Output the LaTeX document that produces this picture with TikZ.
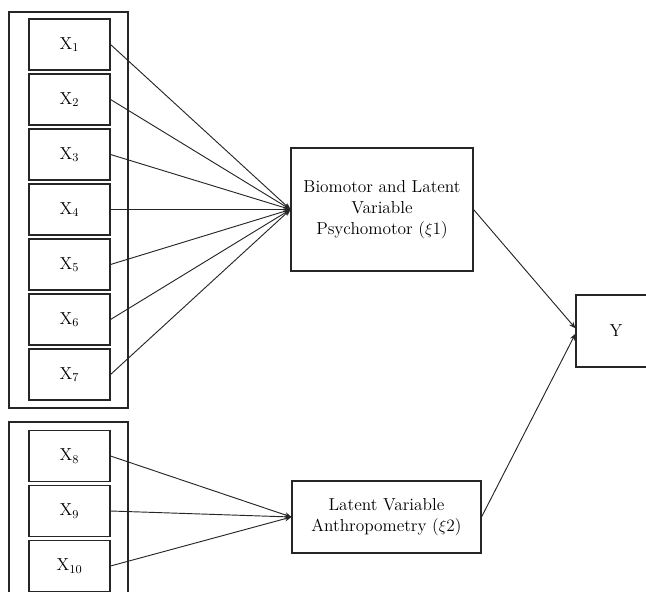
\documentclass[tikz,border=0pt]{standalone}
\usepackage{tikz}
\usetikzlibrary{arrows.meta}

\begin{document}
\begin{tikzpicture}[x=0.75pt,y=0.75pt,
    every node/.style={font=\fontsize{13}{16}\selectfont},
    xbox/.style={draw=black!85,line width=0.8pt,inner sep=0pt,minimum width=60.75pt,minimum height=38.25pt},
    latbox/.style={draw=black!85,line width=0.8pt,inner sep=2pt,align=center},
    link/.style={draw=black!85,line width=0.7pt,-{Stealth[length=5pt,width=4pt]}}]
    \useasboundingbox (0,0) rectangle (646,-592);
    \clip (0,0) rectangle (646,-592);
    % indicator groups
    \draw [black!85,line width=0.8pt] (9,-12) rectangle (128,-408);
    \draw [black!85,line width=0.8pt] (9,-422) rectangle (128,-620);
    \foreach \i in {1,...,7}
        \node [xbox] (x\i) at (69.5,{-44.5-55*(\i-1)}) {X$_{\i}$};
    \foreach \i in {8,9,10}
        \node [xbox] (x\i) at (69.5,{-456-55*(\i-8)}) {X$_{\i}$};
    % latent variables
    \node [latbox,minimum width=136.5pt,minimum height=92.25pt] (bio) at (382,-209.5)
        {Biomotor and Latent\\Variable\\Psychomotor ($\xi$1)};
    \node [latbox,minimum width=141.75pt,minimum height=54pt] (anth) at (386.5,-517)
        {Latent Variable\\Anthropometry ($\xi$2)};
    \node [latbox,minimum width=60pt,minimum height=54pt] (Y) at (616,-331) {Y};
    % paths
    \foreach \i in {1,...,7}
        \draw [link] (x\i.east) -- (bio.west);
    \foreach \i in {8,9,10}
        \draw [link] (x\i.east) -- (anth.west);
    \draw [link] (bio.east) -- ([yshift=2pt]Y.west);
    \draw [link] (anth.east) -- ([yshift=-2pt]Y.west);
\end{tikzpicture}
\end{document}
